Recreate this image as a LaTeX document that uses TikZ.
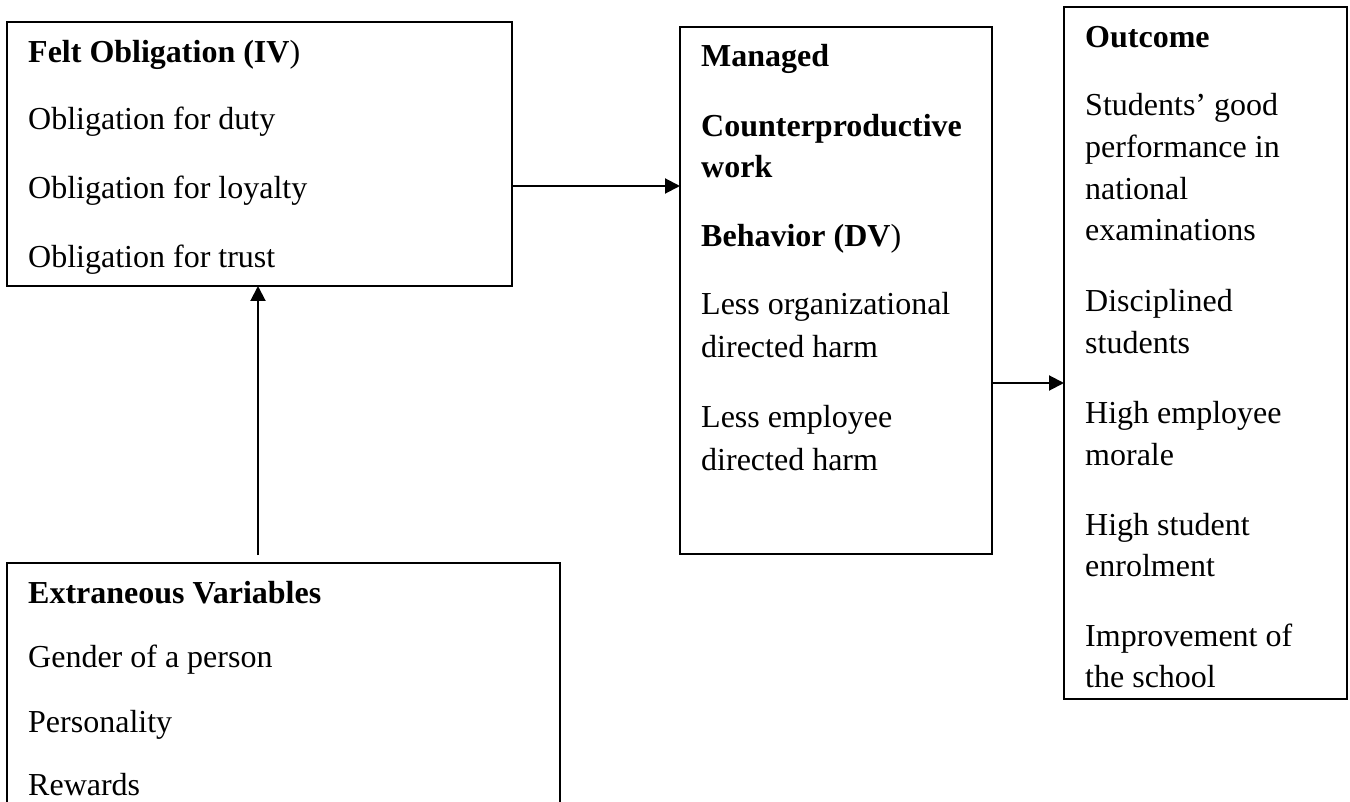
\documentclass[tikz,border=0pt]{standalone}
\usepackage{fontspec}
\setmainfont{Liberation Serif}
\usetikzlibrary{arrows.meta}
\begin{document}
\begin{tikzpicture}[x=1pt,y=-1pt,
  box/.style={draw, line width=2pt, inner sep=0pt, outer sep=0pt, anchor=north west},
  openbox/.style={inner sep=0pt, outer sep=0pt, anchor=north west},
  txt/.style={inner sep=0pt, anchor=base west, font=\fontsize{32}{42}\selectfont},
  hd/.style={txt, font=\fontsize{32}{42}\selectfont\bfseries},
  arr/.style={line width=2pt, -{Triangle[length=15pt,width=15pt]}}]
\useasboundingbox[fill=white] (0,0) rectangle (1350,802);

% boxes
\node[box, minimum width=505pt, minimum height=264pt] (A) at (7,22) {};
\node[box, minimum width=312pt, minimum height=527pt] (B) at (680,27) {};
\node[box, minimum width=283pt, minimum height=692pt] (C) at (1064,7) {};
\node[openbox, minimum width=553pt, minimum height=239pt] (D) at (7,563) {};
\draw[line width=2pt] (D.south west) |- (D.north east) -- (D.south east);

% texts of box A
\node[hd]  (a0) at (28,63)  {Felt Obligation (IV\textmd{)}};
\node[txt] (a1) at (28,130) {Obligation for duty};
\node[txt] (a2) at (28,199) {Obligation for loyalty};
\node[txt] (a3) at (28,268) {Obligation for trust};

% texts of box B
\node[hd]  (b0) at (701,67)  {Managed};
\node[hd]  (b1) at (701,137) {Counterproductive};
\node[hd]  (b2) at (701,178) {work};
\node[hd]  (b3) at (701,247) {Behavior (DV\textmd{)}};
\node[txt] (b4) at (701,315) {Less organizational};
\node[txt] (b5) at (701,358) {directed harm};
\node[txt] (b6) at (701,428) {Less employee};
\node[txt] (b7) at (701,470) {directed harm};

% texts of box C
\node[hd]  (c0)  at (1085,48)  {Outcome};
\node[txt] (c1)  at (1085,116) {Students’ good};
\node[txt] (c2)  at (1085,158) {performance in};
\node[txt] (c3)  at (1085,200) {national};
\node[txt] (c4)  at (1085,241) {examinations};
\node[txt] (c5)  at (1085,312) {Disciplined};
\node[txt] (c6)  at (1085,354) {students};
\node[txt] (c7)  at (1085,423) {High employee};
\node[txt] (c8)  at (1085,465) {morale};
\node[txt] (c9)  at (1085,535) {High student};
\node[txt] (c10) at (1085,576) {enrolment};
\node[txt] (c11) at (1085,646) {Improvement of};
\node[txt] (c12) at (1085,687) {the school};

% texts of box D
\node[hd]  (d0) at (28,603) {Extraneous Variables};
\node[txt] (d1) at (28,667) {Gender of a person};
\node[txt] (d2) at (28,732) {Personality};
\node[txt] (d3) at (28,795) {Rewards};

% connectors
\draw[arr] (A.east |- 0,186) -- (B.west |- 0,186);
\draw[arr] (B.east |- 0,383) -- (C.west |- 0,383);
\draw[arr, shorten <=8pt] (D.north -| 258,0) -- (A.south -| 258,0);
\end{tikzpicture}
\end{document}
